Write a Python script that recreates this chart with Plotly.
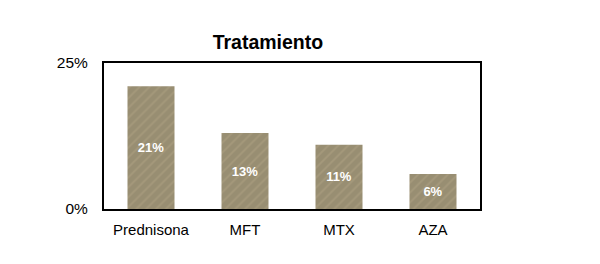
import plotly.graph_objects as go

categories = ["Prednisona", "MFT", "MTX", "AZA"]
values = [0.21, 0.13, 0.11, 0.06]
labels = ["21%", "13%", "11%", "6%"]

fig = go.Figure()
fig.add_trace(go.Bar(
    x=categories, y=values, text=labels,
    textposition="inside", insidetextanchor="middle",
    textfont=dict(family="Liberation Sans, Arial", size=13, color="white", weight="bold"),
    marker=dict(
        color="rgb(152,142,114)",
        line=dict(width=0),
        pattern=dict(shape="/", fgcolor="rgba(185,170,138,0.8)", size=7, solidity=0.25, fillmode="overlay"),
    ),
    hoverinfo="skip",
))

fig.update_layout(
    width=584, height=248,
    margin=dict(l=96, r=112, t=55, b=47),
    paper_bgcolor="white", plot_bgcolor="white",
    bargap=0.5,
    showlegend=False,
    font=dict(family="Liberation Sans, Arial", size=15, color="black"),
    title=dict(text="<b>Tratamiento</b>", x=0.436, xref="paper", xanchor="center",
               y=(248 - 34) / 248, yref="container", yanchor="middle",
               font=dict(size=19.5, color="black")),
)
fig.update_xaxes(showline=True, linecolor="black", linewidth=2, mirror=True,
                 ticks="outside", ticklen=6, tickcolor="rgba(0,0,0,0)",
                 showgrid=False, zeroline=False)
fig.update_yaxes(range=[0, 0.25], tickvals=[0, 0.25], ticktext=["0%", "25%"],
                 showline=True, linecolor="black", linewidth=2, mirror=True,
                 ticks="outside", ticklen=11, tickcolor="rgba(0,0,0,0)",
                 tickfont=dict(size=15.5),
                 showgrid=False, zeroline=False)

fig.write_html("out.html")
